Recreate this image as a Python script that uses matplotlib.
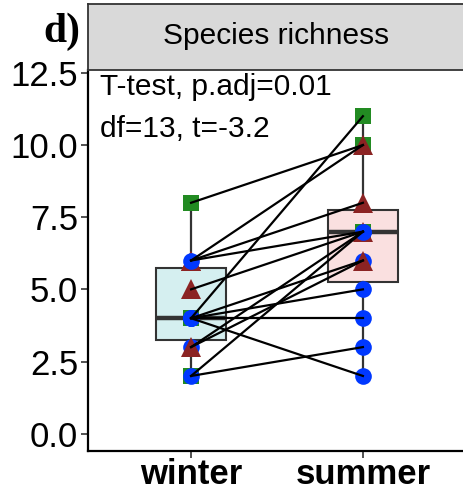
import matplotlib

matplotlib.use("Agg")
import matplotlib.pyplot as plt

# paired species richness per site, winter vs summer
seasons = ["winter", "summer"]
winter = [8, 4, 2, 3, 4, 3, 5, 6, 6, 6, 2, 4, 4, 4]
summer = [10, 11, 7, 7, 6, 6, 7, 8, 10, 7, 3, 4, 2, 5]
site_shape = ["s", "s", "s", "o", "o", "^", "^", "^", "^", "o", "o", "o", "o", "o"]

y_ticks = [0.0, 2.5, 5.0, 7.5, 10.0, 12.5]
panel_title = "Species richness"
test_lines = ["T-test, p.adj=0.01", "df=13, t=-3.2"]

shape_color = {"s": "#228B22", "o": "#0038FF", "^": "#8B2323"}
shape_size = {"s": 11.5, "o": 12, "^": 14.5}
box_fill = ["#D5EFF0", "#FAE0E0"]

plt.rcParams["font.family"] = ["Liberation Sans", "DejaVu Sans"]

fig = plt.figure(figsize=(4.63, 4.96), dpi=100)
ax = fig.add_axes([88 / 463, 45 / 496, 378 / 463, 381 / 496])

bp = ax.boxplot(
    [winter, summer],
    positions=[1, 2],
    widths=0.41,
    whis=1.5,
    showfliers=False,
    patch_artist=True,
    showcaps=False,
    zorder=1,
)
for patch, fc in zip(bp["boxes"], box_fill):
    patch.set_facecolor(fc)
    patch.set_edgecolor("#333333")
    patch.set_linewidth(1.5)
for med in bp["medians"]:
    med.set_color("#333333")
    med.set_linewidth(3.2)
for wh in bp["whiskers"]:
    wh.set_color("#333333")
    wh.set_linewidth(1.6)

# points first, pair lines on top
for w, s, m in zip(winter, summer, site_shape):
    ax.plot([1, 2], [w, s], linestyle="none", marker=m, color=shape_color[m],
            markersize=shape_size[m], markeredgewidth=0, zorder=2)
for w, s in zip(winter, summer):
    ax.plot([1, 2], [w, s], color="black", linewidth=1.6, zorder=3)

ax.set_xlim(0.4, 2.6)
ax.set_ylim(-0.6, 12.6)
ax.set_xticks([1, 2])
ax.set_xticklabels(seasons, fontsize=25, fontweight="bold")
ax.set_yticks(y_ticks)
ax.set_yticklabels([f"{t:.1f}" for t in y_ticks], fontsize=25)
ax.tick_params(axis="y", length=5, width=1.2, color="#333333", pad=2)
ax.tick_params(axis="x", length=5, width=1.2, color="#333333", pad=0)
for side in ["top", "right"]:
    ax.spines[side].set_visible(False)
for side in ["left", "bottom"]:
    ax.spines[side].set_linewidth(1.6)
    ax.spines[side].set_color("black")

ax.text(0.032, 0.955, test_lines[0], transform=ax.transAxes, fontsize=21.5,
        va="center", ha="left")
ax.text(0.032, 0.845, test_lines[1], transform=ax.transAxes, fontsize=21.5,
        va="center", ha="left")

# facet strip above the panel
strip = fig.add_axes([88 / 463, 426 / 496, 378 / 463, 66 / 496])
strip.set_facecolor("#D9D9D9")
strip.set_xticks([])
strip.set_yticks([])
for sp in strip.spines.values():
    sp.set_color("#333333")
    sp.set_linewidth(1.3)
strip.text((276 - 88) / 378, 0.52, panel_title, transform=strip.transAxes,
           fontsize=21.5, ha="center", va="center")

fig.text(62 / 463, 1 - 32 / 496, "d)", fontsize=30, fontweight="bold",
         family="Liberation Serif", ha="center", va="center")

fig.savefig("out.png", dpi=100)
